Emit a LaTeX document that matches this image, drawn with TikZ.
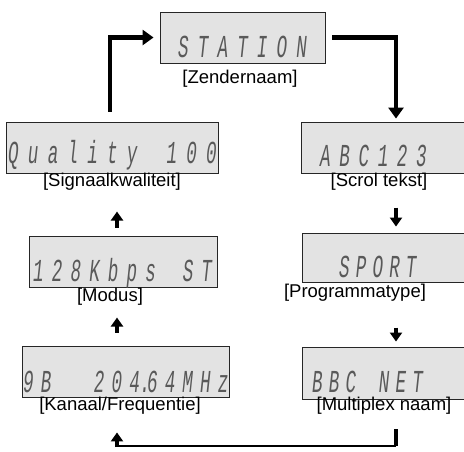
\documentclass[tikz,border=0pt]{standalone}
\usepackage{fontspec}
\setmainfont{Liberation Sans}
\newfontfamily\lcdfamily[FakeStretch=0.55]{Liberation Mono}
\usetikzlibrary{arrows.meta,calc}
\makeatletter
\newlength\lcdpitch
\newcommand\lcdtext[2]{{\lcdfamily\itshape\fontsize{32}{32}\selectfont\color{black!65}\setlength\lcdpitch{#1}\@tfor\lcdtok:=#2\do{\makebox[\lcdpitch][l]{\lcdtok}}}}
\makeatother
\begin{document}
\begin{tikzpicture}[x=1pt,y=-1pt,
  lcdbox/.style={draw=black!85,line width=0.9pt,fill=black!11,inner sep=0pt},
  lab/.style={inner sep=0pt,font=\fontsize{18.5}{19}\selectfont},
  lcd/.style={anchor=base west,inner sep=0pt},
  bigarrow/.style={line width=4.5pt,-{Triangle[width=15pt,length=11pt]}},
  smallarrow/.style={line width=4pt,-{Triangle[width=12pt,length=9pt]}},
  thickline/.style={line width=4.5pt},
  loopline/.style={line width=1.6pt}]
\useasboundingbox (0,0) rectangle (464,451);
% boxes
\node[lcdbox,minimum width=165pt,minimum height=51pt] (station) at (242.5,37.5) {};
\node[lcdbox,minimum width=212pt,minimum height=51pt] (quality) at (112,147.5) {};
\node[lcdbox,minimum width=169pt,minimum height=51pt] (abc) at (385.5,147.5) {};
\node[lcdbox,minimum width=188pt,minimum height=51pt] (modus) at (123,261.5) {};
\node[lcdbox,minimum width=168pt,minimum height=49pt] (sport) at (386,257.5) {};
\node[lcdbox,minimum width=207pt,minimum height=51pt] (freq) at (125.5,371.5) {};
\node[lcdbox,minimum width=168pt,minimum height=52pt] (bbc) at (386,373) {};
% display texts
\node[lcd] (t1) at (178,57) {\lcdtext{19.7pt}{STATION}};
\node[lcd] (t2) at (8,163) {\lcdtext{19.8pt}{Quality~100}};
\node[lcd] (t3) at (320,166) {\lcdtext{19.2pt}{ABC123}};
\node[lcd] (t4) at (33,281) {\lcdtext{18.7pt}{128Kbps~ST}};
\node[lcd] (t5) at (339,277) {\lcdtext{16.7pt}{SPORT}};
\node[lcd] (t6) at (23,392) {\lcdtext{17.7pt}{9B~~20{4\rlap{.}}64MHz}};
\node[lcd] (t7) at (312,392) {\lcdtext{16.7pt}{BBC~NET}};
% labels
\node[lab] (l1) at (240,79) {[Zendernaam]};
\node[lab] (l2) at (112,182) {[Signaalkwaliteit]};
\node[lab] (l3) at (379,182) {[Scrol tekst]};
\node[lab] (l4) at (110,297) {[Modus]};
\node[lab] (l5) at (355,293) {[Programmatype]};
\node[lab] (l6) at (120,406) {[Kanaal/Frequentie]};
\node[lab] (l7) at (384,406) {[Multiplex naam]};
% columns
\coordinate (tl) at (110,0);
\coordinate (lc) at (117,0);
\coordinate (rc) at (396,0);
\coordinate (loopR) at (396,446);
\coordinate (loopL) at (117,446);
% connectors
\draw[bigarrow] ([yshift=10pt]quality.north -| tl) |- ([xshift=-6pt]station.west);
\draw[bigarrow] ([xshift=7pt]station.east) -| ([yshift=3pt]abc.north -| rc);
\draw[smallarrow] ([yshift=25pt]sport.north -| rc) -- ([yshift=6pt]sport.north -| rc);
\draw[smallarrow] ([yshift=19pt]bbc.north -| rc) -- ([yshift=5pt]bbc.north -| rc);
\draw[smallarrow] ([yshift=8pt]modus.north -| lc) -- ([yshift=24pt]modus.north -| lc);
\draw[smallarrow] ([yshift=13pt]freq.north -| lc) -- ([yshift=28pt]freq.north -| lc);
\draw[thickline] ([yshift=-30pt]bbc.south -| rc) -- (loopR);
\draw[loopline] (loopR) -- (loopL);
\draw[smallarrow] ([yshift=-1pt]loopL) -- ([yshift=-35pt]freq.south -| lc);
\end{tikzpicture}
\end{document}
